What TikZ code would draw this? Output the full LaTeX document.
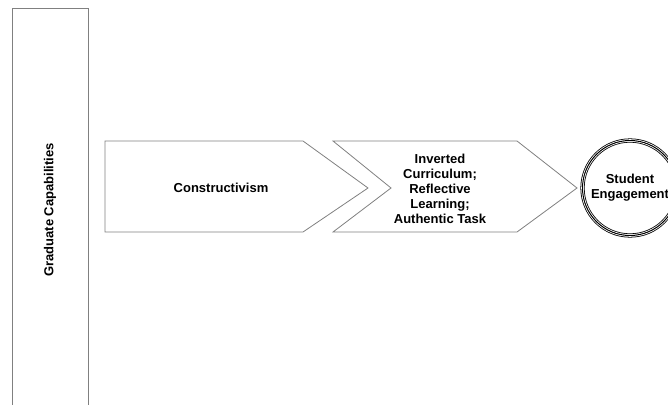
\documentclass[tikz,border=0pt]{standalone}
\usepackage{fontspec}
\setmainfont{Liberation Sans}
\usetikzlibrary{positioning, calc}
\tikzset{%
  outline/.style={draw=black!50, line width=0.8pt}, % grey frames of the shapes
  txt/.style={font=\bfseries\fontsize{13}{15}\selectfont, align=center, inner sep=0pt}
}

\begin{document}
\begin{tikzpicture}[x=1pt, y=-1pt]

\clip (0,0) rectangle (668,404);
\useasboundingbox (0,0) rectangle (668,404);

% left bar
\draw[outline] (12,8) rectangle (88,420);
\node[txt, rotate=90] (grad) at (50,210) {Graduate Capabilities};

% first chevron
\draw[outline] (105,141) -- (303,141) -- (368,188) -- (303,232) -- (105,232) -- cycle;
\node[txt] (constr) at (221,188) {Constructivism};

% second chevron
\draw[outline] (333,141) -- (517,141) -- (577,188) -- (517,232) -- (333,232) -- (391,188) -- cycle;
\node[txt] (invert) at (440,189) {Inverted\\Curriculum;\\Reflective\\Learning;\\Authentic Task};

% ringed circle
\coordinate (eng) at (630,188);
\draw[line width=4.2pt] (eng) circle (47.5);
\draw[white, line width=2.6pt] (eng) circle (47.5);
\draw[line width=1pt] (eng) circle (47.5);
\node[txt, align=center, text width=90pt] (engage) at (eng) {Student\\Engagement};

\end{tikzpicture}
\end{document}
